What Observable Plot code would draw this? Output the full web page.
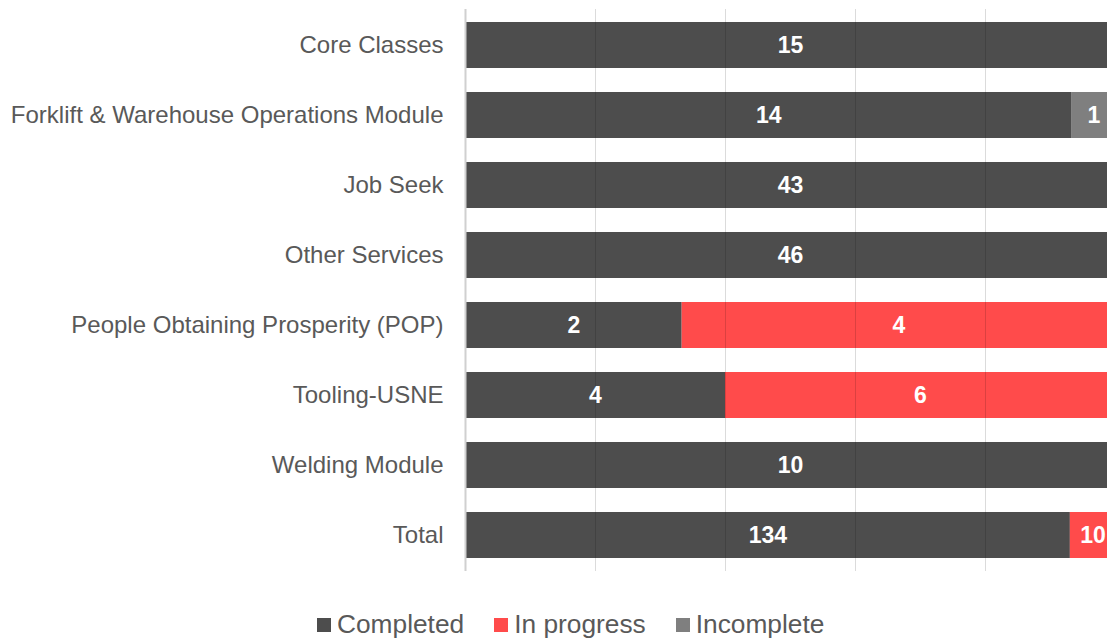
<!DOCTYPE html>
<html>
<head>
<meta charset="utf-8">
<script src="https://cdn.jsdelivr.net/npm/d3@7"></script>
<script src="https://cdn.jsdelivr.net/npm/@observablehq/plot@0.6"></script>
<style>
  html, body { margin: 0; padding: 0; overflow: hidden; background: #fff; width: 1107px; height: 639px; }
  #wrap { position: relative; width: 1115px; height: 639px; font-family: "Liberation Sans", Arial, sans-serif; }
  #legend { position: absolute; left: 317px; top: 609px; display: flex; align-items: center; font-size: 26.3px; color: #595959; }
  .item { display: flex; align-items: center; margin-right: 30px; }
  .sw { width: 14px; height: 14px; margin-right: 6px; display: inline-block; }
</style>
</head>
<body>
<div id="wrap"><div id="chart"></div><div id="legend"></div></div>
<script>
const categories = ["Core Classes", "Forklift & Warehouse Operations Module", "Job Seek", "Other Services", "People Obtaining Prosperity (POP)", "Tooling-USNE", "Welding Module", "Total"];
const statuses = ["Completed", "In progress", "Incomplete"];
const colors = ["#4d4d4d", "#ff4b4b", "#7f7f7f"];
const completed = [15, 14, 43, 46, 2, 4, 10, 134];
const inProgress = [0, 0, 0, 0, 4, 6, 0, 10];
const incomplete = [0, 1, 0, 0, 0, 0, 0, 0];
const gridTicks = [0.2, 0.4, 0.6, 0.8, 1.0];

const series = [completed, inProgress, incomplete];
const data = [];
categories.forEach((c, i) => {
  statuses.forEach((s, j) => {
    const v = series[j][i];
    if (v > 0) data.push({category: c, status: s, value: v});
  });
});

const chart = Plot.plot({
  width: 1115,
  height: 589,
  marginLeft: 465,
  marginRight: 0,
  marginTop: 9,
  marginBottom: 18,
  style: {fontFamily: "'Liberation Sans', Arial, sans-serif", color: "#595959", background: "white"},
  x: {domain: [0, 1], axis: null},
  y: {domain: categories, paddingInner: 0.345, paddingOuter: 0.1725, axis: null},
  color: {domain: statuses, range: colors},
  marks: [
    Plot.barX(data, Plot.stackX({x: "value", y: "category", fill: "status", offset: "normalize", order: statuses})),
    Plot.ruleX(gridTicks, {stroke: "#000", strokeOpacity: 0.14, strokeWidth: 1}),
    Plot.ruleX([0], {stroke: "#d0d0d0", strokeWidth: 2}),
    Plot.text(data, Plot.stackX({x: "value", y: "category", z: "status", text: "value", offset: "normalize", order: statuses, fill: "white", fontWeight: "bold", fontSize: 23})),
    Plot.axisY({tickSize: 0, tickPadding: 22, fontSize: 24, fill: "#595959", label: null})
  ]
});
document.getElementById("chart").appendChild(chart);

const legend = document.getElementById("legend");
statuses.forEach((s, i) => {
  const item = document.createElement("div");
  item.className = "item";
  const sw = document.createElement("span");
  sw.className = "sw";
  sw.style.background = colors[i];
  const t = document.createElement("span");
  t.textContent = s;
  item.appendChild(sw);
  item.appendChild(t);
  legend.appendChild(item);
});
</script>
</body>
</html>
